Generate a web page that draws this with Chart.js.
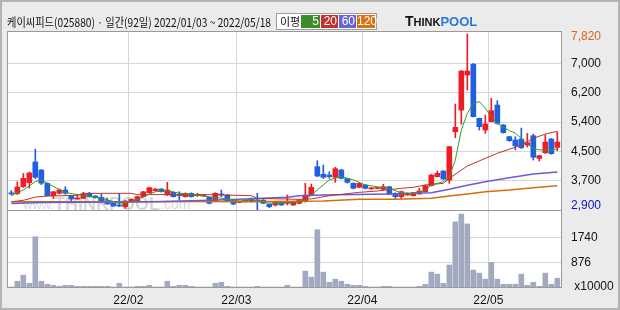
<!DOCTYPE html>
<html>
<head>
<meta charset="utf-8">
<script src="https://cdn.jsdelivr.net/npm/chart.js@4.4.1/dist/chart.umd.min.js"></script>
<style>
html, body { margin: 0; padding: 0; background: #ebebeb; }
#wrap { position: relative; width: 620px; height: 310px; overflow: hidden; }
#c { position: absolute; left: 0; top: 0; }
#frame { position: absolute; left: 0; top: 0; width: 620px; height: 310px; box-sizing: border-box; border: 2px solid #b4b4b4; pointer-events: none; }
#title { position: absolute; left: 7px; top: 14px; font: 12px 'Noto Sans CJK KR', sans-serif; line-height: 16px; color: #111; white-space: nowrap; transform-origin: left top; }
#leg { position: absolute; left: 276px; top: 13px; width: 99px; height: 15px; border: 1px solid #9c9c9c; background: #fff; }
#leg span { position: absolute; top: 1px; height: 13px; font: 12px 'Liberation Sans', sans-serif; line-height: 13px; color: #fff; text-align: right; box-sizing: border-box; padding-right: 1px; white-space: nowrap; }
#leg .t { color: #111; left: 3px; width: 21px; text-align: left; font: 11px 'Noto Sans CJK KR', sans-serif; line-height: 13px; padding: 0; }
#logo { position: absolute; left: 405px; top: 13px; font-family: 'Liberation Sans', sans-serif; font-weight: bold; white-space: nowrap; line-height: 16px; }
</style>
</head>
<body>
<div id="wrap">
  <canvas id="c" width="620" height="310"></canvas>
  <div id="title">케이씨피드(025880) · 일간(92일) 2022/01/03 ~ 2022/05/18</div>
  <div id="leg">
    <span class="t">이평</span>
    <span style="left:24px;width:19px;background:#3d8b2b">5</span>
    <span style="left:44px;width:17px;background:#c4302b">20</span>
    <span style="left:62px;width:17px;background:#6863d8">60</span>
    <span style="left:80px;width:18px;background:#d8700e">120</span>
  </div>
  <div id="logo"><span style="font-size:14px;color:#111">T</span><span style="font-size:11px;color:#111">HINK</span><span style="font-size:13px;color:#2a78dc">POOL</span></div>
  <div id="frame"></div>
</div>
<script>
// daily candles, 2022/01/03 ~ 2022/05/18 (92 trading days)
const open = [3380, 3360, 3555, 3665, 4243, 4018, 3645, 3300, 3366, 3459,
  3290, 3207, 3227, 3366, 3291, 3254, 3161, 3086, 3040, 2993,
  3160, 3160, 3273, 3384, 3440, 3487, 3319, 3394, 3319, 3273,
  3366, 3300, 3290, 3254, 3161, 3340, 3320, 3180, 3110, 3133,
  3226, 3180, 3180, 3058, 3040, 3133, 3087, 3040, 3087, 3133,
  3319, 4111, 3897, 3878, 3813, 4018, 3785, 3645, 3534, 3599,
  3490, 3500, 3478, 3552, 3366, 3273, 3319, 3300, 3347, 3412,
  3580, 3832, 3990, 3738, 5089, 5695, 6673, 6971, 5462, 5136,
  5369, 5835, 5276, 4950, 4857, 4885, 4717, 4975, 4344, 4500,
  4885, 4651];
const close = [3350, 3545, 3785, 3935, 3814, 3650, 3300, 3410, 3459, 3366,
  3207, 3215, 3347, 3273, 3245, 3133, 3068, 3012, 3012, 3151,
  3198, 3273, 3410, 3524, 3487, 3412, 3459, 3273, 3300, 3366,
  3273, 3330, 3310, 3086, 3366, 3320, 3161, 3068, 3133, 3180,
  3133, 3133, 3086, 2993, 3115, 3040, 3115, 3133, 3180, 3319,
  3534, 3850, 3813, 3832, 4055, 3785, 3673, 3506, 3645, 3506,
  3520, 3510, 3552, 3338, 3273, 3412, 3366, 3384, 3431, 3580,
  3878, 3925, 3766, 4670, 5210, 6785, 6785, 5509, 5229, 5304,
  5676, 5322, 5061, 4838, 4698, 4640, 4782, 4375, 4418, 4800,
  4475, 4800];
const high = [3440, 3690, 3920, 3960, 4600, 4030, 3660, 3420, 3490, 3550,
  3300, 3340, 3394, 3394, 3300, 3340, 3226, 3100, 3366, 3160,
  3210, 3290, 3420, 3540, 3500, 3495, 3673, 3400, 3412, 3380,
  3380, 3370, 3330, 3260, 3384, 3459, 3330, 3190, 3150, 3190,
  3240, 3366, 3190, 3070, 3120, 3140, 3320, 3140, 3190, 3645,
  3627, 4279, 4158, 3971, 4093, 4040, 3790, 3660, 3660, 3610,
  3530, 3520, 3617, 3560, 3380, 3430, 3380, 3390, 3505, 3600,
  3900, 3990, 4000, 4680, 5863, 6800, 7820, 7000, 5470, 5555,
  6021, 5956, 5290, 4960, 4950, 5190, 5040, 5024, 4430, 5000,
  4900, 5080];
const low = [3320, 3330, 3530, 3510, 3780, 3610, 3290, 3226, 3350, 3340,
  3114, 3200, 3220, 3260, 3230, 3120, 3060, 3000, 2993, 2946,
  3150, 3150, 3260, 3370, 3430, 3400, 3310, 3260, 3180, 3260,
  3260, 3280, 3280, 3070, 3150, 3273, 3150, 3050, 3100, 3120,
  3120, 2900, 3080, 2960, 3010, 3030, 3040, 3030, 3070, 3120,
  3300, 3830, 3785, 3785, 3673, 3770, 3650, 3490, 3520, 3490,
  3480, 3490, 3470, 3330, 3226, 3226, 3310, 3290, 3340, 3400,
  3570, 3820, 3750, 3645, 4922, 5300, 6254, 5500, 5136, 5043,
  5360, 5300, 5050, 4820, 4580, 4620, 4660, 4297, 4270, 4480,
  4460, 4560];
// volume, x10000 shares
const volume = [35, 232, 441, 162, 1760, 232, 128, 93, 58, 93,
  93, 58, 58, 58, 58, 58, 58, 35, 162, 35,
  35, 58, 58, 93, 35, 35, 232, 58, 93, 93,
  58, 35, 35, 35, 162, 197, 58, 35, 35, 35,
  35, 58, 35, 35, 35, 35, 93, 35, 35, 580,
  371, 2000, 545, 197, 302, 232, 128, 93, 93, 58,
  35, 35, 58, 58, 35, 35, 35, 35, 58, 128,
  545, 476, 162, 789, 2270, 2540, 2200, 615, 510, 302,
  880, 302, 128, 128, 128, 476, 93, 197, 58, 510,
  128, 336];

// moving averages: [day index, price]
const ma5 = [[0, 3300], [2, 3460], [4, 3690], [5, 3740], [7, 3560], [9, 3390], [12, 3300], [15, 3230],
  [18, 3090], [20, 3130], [22, 3270], [24, 3410], [26, 3440], [28, 3370], [31, 3320], [33, 3270],
  [35, 3230], [38, 3150], [40, 3190], [43, 3090], [46, 3100], [48, 3130], [49, 3180], [50, 3320],
  [51, 3460], [53, 3740], [54, 3790], [55, 3830], [57, 3740], [59, 3600], [61, 3550], [63, 3500],
  [65, 3380], [67, 3360], [69, 3450], [70, 3600], [72, 3690], [73, 3830], [74, 4300], [75, 5136],
  [76, 5600], [77, 5880], [78, 5930], [79, 5750], [80, 5500], [81, 5320], [83, 5120], [84, 5050],
  [85, 4900], [86, 4750], [87, 4620], [88, 4580], [89, 4580], [90, 4590], [91, 4600]];
const ma20 = [[0, 3130], [2, 3170], [4, 3260], [6, 3290], [11, 3310], [12, 3366], [20, 3366], [21, 3330],
  [33, 3330], [40, 3300], [41, 3226], [48, 3198], [50, 3210], [53, 3300], [58, 3394], [61, 3431],
  [65, 3506], [67, 3534], [69, 3599], [72, 3645], [73, 3785], [76, 4130], [79, 4344], [81, 4484],
  [85, 4717], [87, 4903], [89, 5024], [91, 5100]];
const ma60 = [[0, 3080], [5, 3110], [24, 3130], [33, 3170], [38, 3200], [46, 3254], [48, 3300], [52, 3319],
  [60, 3338], [64, 3350], [70, 3384], [73, 3478], [76, 3589], [79, 3692], [83, 3804], [87, 3906], [91, 3960]];
const ma120 = [[0, 3130], [20, 3130], [30, 3140], [40, 3133], [52, 3151], [58, 3198], [64, 3198], [70, 3226],
  [73, 3291], [76, 3347], [79, 3412], [83, 3459], [87, 3524], [91, 3575]];

const monthPos = [19.5, 37.5, 58.5, 79.5];
const monthLabels = ['22/02', '22/03', '22/04', '22/05'];
const priceTickVals = [7736, 7000, 6180, 5360, 4540, 3720, 3012];
const priceTickLabels = ['7,820', '7,000', '6,200', '5,400', '4,500', '3,700', '2,900'];
const priceTickColors = ['#d2691e', '#111', '#111', '#111', '#111', '#111', '#1010c8'];
const volTickVals = [1740, 876, 58];
const volTickLabels = ['1740', '876', ' x10000'];

const RED = '#ee1c24', BLUE = '#1f5fe0', GRID = '#d6d6d6';
const candleColor = open.map((o, i) => close[i] >= o ? RED : BLUE);
const pts = arr => arr.map(([x, y]) => ({x, y}));

// title width fit
const t = document.getElementById('title');
t.style.transform = 'scaleX(' + (264 / t.scrollWidth) + ')';

const deco = {
  id: 'deco',
  beforeDraw(chart) {
    const {ctx, chartArea: a} = chart;
    ctx.save();
    ctx.fillStyle = '#fff';
    ctx.fillRect(a.left, a.top, a.right - a.left, a.bottom - a.top);
    ctx.restore();
  },
  beforeDatasetsDraw(chart) {
    const {ctx} = chart;
    ctx.save();
    ctx.fillStyle = 'rgba(140,140,140,0.35)';
    ctx.textBaseline = 'alphabetic';
    let x = 23;
    ctx.font = '13px "Liberation Sans"';
    ctx.fillText('www.', x, 209); x += ctx.measureText('www.').width;
    ctx.font = 'bold 18px "Liberation Sans"';
    ctx.fillText('THINKPOOL', x, 210); x += ctx.measureText('THINKPOOL').width;
    ctx.font = '14px "Liberation Sans"';
    ctx.fillText('.com', x, 209);
    ctx.restore();
  },
  afterDraw(chart) {
    const {ctx, chartArea: a} = chart;
    const sep = Math.round(chart.scales.yv.top) + 0.5;
    ctx.save();
    ctx.strokeStyle = '#9a9a9a';
    ctx.lineWidth = 1;
    ctx.strokeRect(a.left + 0.5, a.top + 0.5, a.right - a.left - 1, a.bottom - a.top - 1);
    ctx.beginPath();
    ctx.moveTo(a.left, sep); ctx.lineTo(a.right, sep);
    ctx.stroke();
    ctx.restore();
  }
};

const lineDs = (label, data, color, w) => ({
  type: 'line', label, data: pts(data), borderColor: color, borderWidth: w,
  pointRadius: 0, tension: 0, fill: false, yAxisID: 'y', order: 1
});

new Chart(document.getElementById('c').getContext('2d'), {
  type: 'bar',
  data: {
    datasets: [
      lineDs('MA5', ma5, '#3c9a28', 1),
      lineDs('MA20', ma20, '#c03232', 1),
      lineDs('MA60', ma60, '#6a5ad8', 1.5),
      lineDs('MA120', ma120, '#d86c0c', 1.5),
      {
        label: 'body', data: open.map((o, i) => ({x: i, y: [o, close[i]]})),
        backgroundColor: candleColor, barThickness: 5, grouped: false, minBarLength: 1,
        borderWidth: 0, yAxisID: 'y', order: 2
      },
      {
        label: 'wick', data: low.map((l, i) => ({x: i, y: [l, high[i]]})),
        backgroundColor: candleColor, barThickness: 1, grouped: false,
        borderWidth: 0, yAxisID: 'y', order: 3
      },
      {
        label: 'volume', data: volume.map((v, i) => ({x: i, y: v})),
        backgroundColor: '#a2aac2', barThickness: 5, grouped: false,
        borderWidth: 0, yAxisID: 'yv', order: 4
      }
    ]
  },
  options: {
    responsive: false,
    animation: false,
    devicePixelRatio: 1,
    layout: {
      padding: {left: 7, top: 31, right: 0, bottom: 0}
    },
    plugins: {
      legend: {display: false},
      tooltip: {enabled: false}
    },
    scales: {
      x: {
        type: 'linear', min: -0.72, max: 91.78, offset: false,
        grid: {color: GRID, drawTicks: false, offset: false},
        border: {display: false},
        afterBuildTicks: s => { s.ticks = monthPos.map(v => ({value: v})); },
        afterFit: s => { s.height = 22; },
        ticks: {
          autoSkip: false, maxRotation: 0, padding: 5, color: '#111',
          font: {family: 'Liberation Sans', size: 12},
          callback: (v, i) => monthLabels[i]
        }
      },
      y: {
        position: 'right', stack: 'panels', stackWeight: 179,
        min: 2900, max: 7904,
        grid: {
          drawTicks: false,
          color: c => (c.index === 0 || c.index === priceTickVals.length - 1) ? 'rgba(0,0,0,0)' : GRID
        },
        border: {display: false},
        afterBuildTicks: s => { s.ticks = priceTickVals.map(v => ({value: v})); },
        afterFit: s => { s.width = 58; },
        ticks: {
          autoSkip: false, padding: 9,
          color: c => priceTickColors[c.index],
          font: {family: 'Liberation Sans', size: 12},
          callback: (v, i) => priceTickLabels[i]
        }
      },
      yv: {
        position: 'right', stack: 'panels', stackWeight: 78,
        min: 0, max: 2677,
        grid: {
          drawTicks: false,
          color: c => c.index === volTickVals.length - 1 ? 'rgba(0,0,0,0)' : GRID
        },
        border: {display: false},
        afterBuildTicks: s => { s.ticks = volTickVals.map(v => ({value: v})); },
        afterFit: s => { s.width = 58; },
        ticks: {
          autoSkip: false, padding: 9, color: '#111',
          font: {family: 'Liberation Sans', size: 12},
          callback: (v, i) => volTickLabels[i]
        }
      }
    }
  },
  plugins: [deco]
});
</script>
</body>
</html>
